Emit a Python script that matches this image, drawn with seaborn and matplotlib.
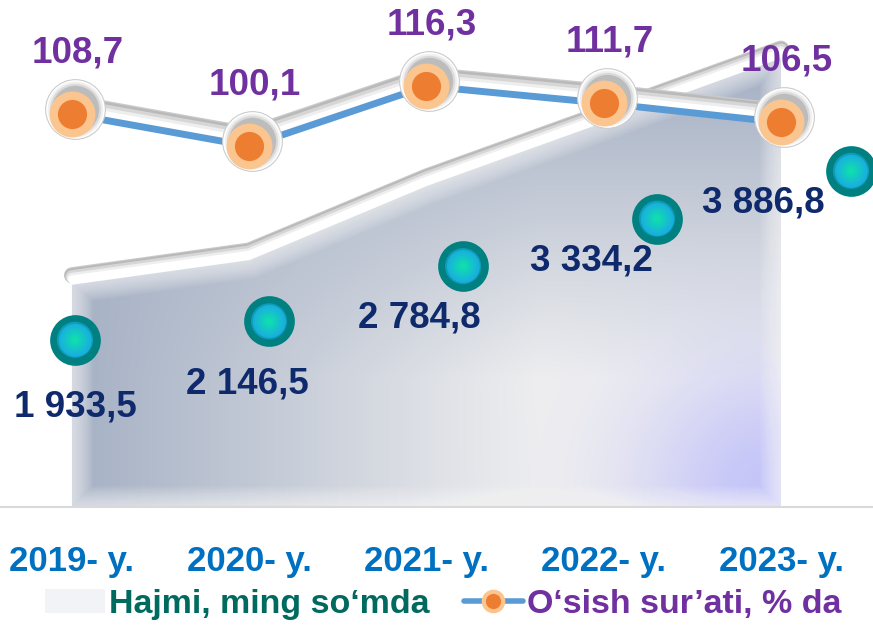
import numpy as np
import pandas as pd
import seaborn as sns
import matplotlib
matplotlib.use("Agg")
import matplotlib.pyplot as plt
import matplotlib.patheffects as pe
from matplotlib.patches import Polygon, Patch
from matplotlib.lines import Line2D
from matplotlib.transforms import offset_copy

years = ["2019- y.", "2020- y.", "2021- y.", "2022- y.", "2023- y."]
volume = [1933.5, 2146.5, 2784.8, 3334.2, 3886.8]
growth = [108.7, 100.1, 116.3, 111.7, 106.5]
legend_labels = ["Hajmi, ming so‘mda", "O‘sish sur’ati, % da"]

sns.set_theme(style="white")
plt.rcParams["font.family"] = ["Liberation Sans", "DejaVu Sans"]

W, H = 873, 626
fig = plt.figure(figsize=(W / 100, H / 100), dpi=100)
rect = [0, 119 / H, 1, 507 / H]

ax = fig.add_axes(rect)
ax2 = ax.twinx()
ax3 = fig.add_axes(rect)   # front plane for the volume markers
ax4 = fig.add_axes(rect)   # plane for the volume labels
for z, a in enumerate([ax, ax3, ax4, ax2]):
    a.set_zorder(z + 1)
    a.patch.set_visible(False)
    for s in a.spines.values():
        s.set_visible(False)
    a.set_yticks([])

xs = np.arange(len(years))
ax.set_xlim(-0.406, 4.519)
ax.set_ylim(0, 4370)
ax2.set_ylim(2.5, 139.6)
ax3.set_xlim(-0.3866, 4.113)
ax3.set_ylim(0, 5862)
ax4.set_xlim(-0.436, 4.64)
ax4.set_ylim(968, 5843)
ax3.set_xticks([])
ax4.set_xticks([])


def ribbon(h_px, shades):
    # grey band stacked above a line, darker at the top edge
    out = []
    for f, c in shades:
        out.append(pe.Stroke(linewidth=(f * h_px + 1) * 0.72, foreground=c,
                             offset=(0, f * h_px / 2 * 0.72)))
    out.append(pe.Normal())
    return out


shades = [(1.0, "#cacaca"), (0.93, "#b9b9b9"), (0.8, "#d6d6d6"),
          (0.62, "#eeeeee"), (0.45, "#ffffff")]

# area with gradient fill
verts = [(xs[0], 0)] + list(zip(xs, volume)) + [(xs[-1], 0)]
poly = Polygon(verts, closed=True, facecolor="none", edgecolor="none")
ax.add_patch(poly)

ny, nx = 507, 873
X, Y = np.meshgrid(np.arange(nx) + 0.5, np.arange(ny) + 0.5)
base = np.array([168, 179, 198]) / 255
light = np.array([239, 239, 240]) / 255
lav = np.array([192, 192, 250]) / 255
L = np.clip((X - 90) / 450, 0, 1) * np.clip((Y - 80) / 300, 0, 1)
L = L[..., None]
img = base * (1 - L) + light * L
g = (np.exp(-((X - 770) ** 2 + (Y - 492) ** 2) / (2 * 95 ** 2)) * 0.9)[..., None]
img = img * (1 - g) + lav * g
im = ax.imshow(img, extent=(*ax.get_xlim(), *ax.get_ylim()), origin="upper",
               aspect="auto", interpolation="bilinear", zorder=0)
im.set_clip_path(poly)

# soft bevel along the inside of the front face
for lw in np.arange(30, 1, -2):
    bev = Polygon(verts, closed=True, fill=False, edgecolor="white",
                  lw=lw, alpha=0.06, joinstyle="round")
    ax.add_patch(bev)
    bev.set_clip_path(poly)

ax.plot(xs, volume, color="white", lw=3, solid_joinstyle="round",
        solid_capstyle="round", path_effects=ribbon(15, shades), zorder=2)
ax.axhline(0, color="#d9d9d9", lw=1.5, clip_on=False, zorder=3)

# volume markers (teal rings with radial glow)
sns.scatterplot(x=xs, y=volume, ax=ax3, s=30 ** 2, color="#1aa9e6",
                edgecolor="#008080", linewidth=6.5, zorder=2, legend=False)
c0 = np.array([26, 169, 230]) / 255
c1 = np.array([16, 226, 170]) / 255
for k, ms in enumerate(np.linspace(26, 4, 9)):
    t = (k + 1) / 9
    sns.scatterplot(x=xs, y=volume, ax=ax3, s=ms ** 2, color=c0 * (1 - t) + c1 * t,
                    edgecolor="none", linewidth=0, alpha=0.6, zorder=3, legend=False)

for i, v in enumerate(volume):
    lab = f"{v:,.1f}".replace(",", " ").replace(".", ",")
    ax4.text(xs[i], v, lab, ha="center", va="center", fontsize=26.5,
             fontweight="bold", color="#0f2a6c")

# growth line
sns.lineplot(x=xs, y=growth, ax=ax2, color="#5b9bd5", lw=5, sort=False,
             solid_joinstyle="round", solid_capstyle="round",
             path_effects=ribbon(19, shades), zorder=2)
halo_tr = offset_copy(ax2.transData, fig=fig, x=2, y=4, units="points")
for ms, fc, ec in [(43, "white", "#cccccc"), (40, "#f0f0f0", "none"),
                   (37, "#dadada", "none"), (34, "#bcbcbc", "none")]:
    ax2.plot(xs, growth, "o", ms=ms, mfc=fc, mec=ec, mew=0.8,
             transform=halo_tr, zorder=3)
sns.scatterplot(x=xs, y=growth, ax=ax2, s=27 ** 2, color="#ed7d31",
                edgecolor="#fbc58f", linewidth=6, zorder=4, legend=False)

for i, gv in enumerate(growth):
    ax2.annotate(f"{gv:.1f}".replace(".", ","), (xs[i], gv), xytext=(4, 44),
                 textcoords="offset points", ha="center", va="center",
                 fontsize=26.5, fontweight="bold", color="#7030a0", zorder=5)

ax.set_xticks(xs)
ax.set_xticklabels(years, fontsize=25, fontweight="bold", color="#0070c0")
ax.tick_params(axis="x", length=0, pad=27)
ax2.set_ylabel("")
ax3.set_ylabel("")
ax4.set_ylabel("")

handles = [Patch(facecolor="#f1f3f6", edgecolor="none"),
           Line2D([], [], color="#5b9bd5", lw=4, marker="o", ms=14,
                  mfc="#ed7d31", mec="#fbc58f", mew=3)]
leg = fig.legend(handles, legend_labels, loc="center", bbox_to_anchor=(0.508, 0.034),
                 ncol=2, frameon=False, prop={"size": 24.5, "weight": "bold"},
                 handlelength=1.75, handletextpad=0.12, columnspacing=1.0)
for t, c in zip(leg.get_texts(), ["#006a5e", "#7030a0"]):
    t.set_color(c)

fig.savefig("out.png", dpi=100, facecolor="white")
